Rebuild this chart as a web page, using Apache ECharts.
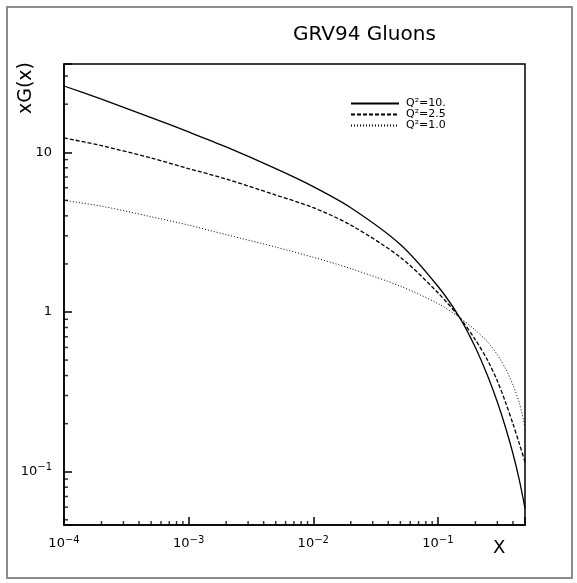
<!DOCTYPE html>
<html>
<head>
<meta charset="utf-8">
<script src="https://cdn.jsdelivr.net/npm/echarts@6/dist/echarts.min.js"></script>
<style>
  html, body { margin: 0; padding: 0; background: #fff; }
  #frame { position: absolute; left: 6px; top: 6px; width: 563px; height: 569px; border: 2px solid #8c8c8c; }
  #gluon { position: absolute; left: 0; top: 0; width: 577px; height: 583px; }
</style>
</head>
<body>
<div id="frame"></div>
<div id="gluon"></div>
<script>
// x values shared by all three curves
const xValues = [1e-4, 2e-4, 5e-4, 1e-3, 2e-3, 5e-3, 0.01, 0.02, 0.05, 0.1, 0.15, 0.2, 0.25, 0.3, 0.35, 0.4, 0.45, 0.5];
// xG(x)
const q10Values = [26, 21.5, 16.5, 13.4, 10.8, 7.9, 6.1, 4.5, 2.65, 1.45, 0.92, 0.6, 0.4, 0.273, 0.188, 0.13, 0.089, 0.059];
const q25Values = [12.3, 11.0, 9.2, 7.9, 6.8, 5.4, 4.5, 3.5, 2.2, 1.32, 0.92, 0.67, 0.5, 0.37, 0.27, 0.2, 0.15, 0.115];
const q1Values  = [5.0, 4.6, 3.95, 3.5, 3.05, 2.55, 2.2, 1.87, 1.45, 1.13, 0.92, 0.77, 0.65, 0.54, 0.44, 0.35, 0.27, 0.19];
const seriesNames = ['Q\u00b2=10.', 'Q\u00b2=2.5', 'Q\u00b2=1.0'];

// axis ranges and the small ticks at 2..9 of each decade
const xRange = [1e-4, 0.5];
const yRange = [0.0464, 35.7];
const xMinorTicks = minorTicks(xRange[0], xRange[1]);
const yMinorTicks = minorTicks(yRange[0], yRange[1]);

function minorTicks(lo, hi) {
  let out = [];
  for (let e = -5; e <= 2; e++) {
    for (let m = 2; m <= 9; m++) {
      let v = m * Math.pow(10, e);
      if (v > lo * 1.0001 && v < hi * 0.9999) out.push(v);
    }
  }
  return out;
}

function pairs(ys) {
  return xValues.map((x, i) => [x, ys[i]]);
}

function powLabel(v) {
  let l = Math.log10(v), e = Math.round(l);
  if (Math.abs(l - e) > 1e-6) return '';
  if (e === 0) return '1';
  if (e === 1) return '10';
  return '10{sup|' + (e < 0 ? '\u2212' : '') + Math.abs(e) + '}';
}

let font = 'DejaVu Sans';
let labelRich = {
  sup: { fontSize: 10, fontFamily: font, color: '#000', verticalAlign: 'top', padding: [0, 0, 8, 0] }
};

let chart = echarts.init(document.getElementById('gluon'));
let option = {
  animation: false,
  title: {
    text: 'GRV94 Gluons',
    left: 288,
    top: 20,
    textStyle: { fontFamily: font, fontSize: 20, fontWeight: 'normal', color: '#000' }
  },
  legend: {
    orient: 'vertical',
    left: 345,
    top: 93,
    itemWidth: 48,
    itemHeight: 8,
    itemGap: 0,
    itemStyle: { opacity: 0 },
    textStyle: { fontFamily: font, fontSize: 11, lineHeight: 11, color: '#000', padding: [0, 0, 0, 2] },
    data: seriesNames
  },
  grid: { left: 64, top: 64, width: 461, height: 461, show: true, borderColor: '#000', borderWidth: 1.5, containLabel: false },
  xAxis: {
    type: 'log',
    min: xRange[0],
    max: xRange[1],
    axisLine: { show: true, onZero: false, lineStyle: { color: '#000', width: 1.5 } },
    axisTick: { show: true, inside: true, length: 8, lineStyle: { color: '#000', width: 1.5 } },
    axisLabel: { show: true, margin: 10, formatter: powLabel, fontFamily: font, fontSize: 13, color: '#000', rich: labelRich },
    splitLine: { show: false }
  },
  yAxis: {
    type: 'log',
    min: yRange[0],
    max: yRange[1],
    axisLine: { show: true, onZero: false, lineStyle: { color: '#000', width: 1.5 } },
    axisTick: { show: true, inside: true, length: 8, lineStyle: { color: '#000', width: 1.5 } },
    axisLabel: { show: true, margin: 12, formatter: powLabel, fontFamily: font, fontSize: 13, color: '#000', rich: labelRich },
    splitLine: { show: false }
  },
  graphic: [{
    type: 'text',
    left: 17,
    top: 62,
    rotation: Math.PI / 2,
    style: { text: 'xG(x)', fontFamily: font, fontSize: 19, fill: '#000' }
  }, {
    type: 'text',
    left: 493,
    top: 539,
    style: { text: 'X', fontFamily: font, fontSize: 18, fill: '#000' }
  }],
  series: [{
    name: seriesNames[0],
    type: 'line',
    symbol: 'none',
    smooth: 0.3,
    data: pairs(q10Values),
    itemStyle: { color: '#000' },
    lineStyle: { color: '#000', width: 1.3, type: 'solid' }
  }, {
    name: seriesNames[1],
    type: 'line',
    symbol: 'none',
    smooth: 0.3,
    data: pairs(q25Values),
    itemStyle: { color: '#000' },
    lineStyle: { color: '#000', width: 1.3, type: [4, 2] }
  }, {
    name: seriesNames[2],
    type: 'line',
    symbol: 'none',
    smooth: 0.3,
    data: pairs(q1Values),
    itemStyle: { color: '#000' },
    lineStyle: { color: '#000', width: 1, type: [1, 2] }
  }, {
    // minor ticks along the X axis
    type: 'scatter',
    silent: true,
    clip: false,
    symbol: 'rect',
    symbolSize: [1.5, 4],
    symbolOffset: [0, -2],
    itemStyle: { color: '#000' },
    data: xMinorTicks.map(v => [v, yRange[0]])
  }, {
    // minor ticks along the Y axis
    type: 'scatter',
    silent: true,
    clip: false,
    symbol: 'rect',
    symbolSize: [4, 1.5],
    symbolOffset: [2, 0],
    itemStyle: { color: '#000' },
    data: yMinorTicks.map(v => [xRange[0], v])
  }]
};
chart.setOption(option);
</script>
</body>
</html>
